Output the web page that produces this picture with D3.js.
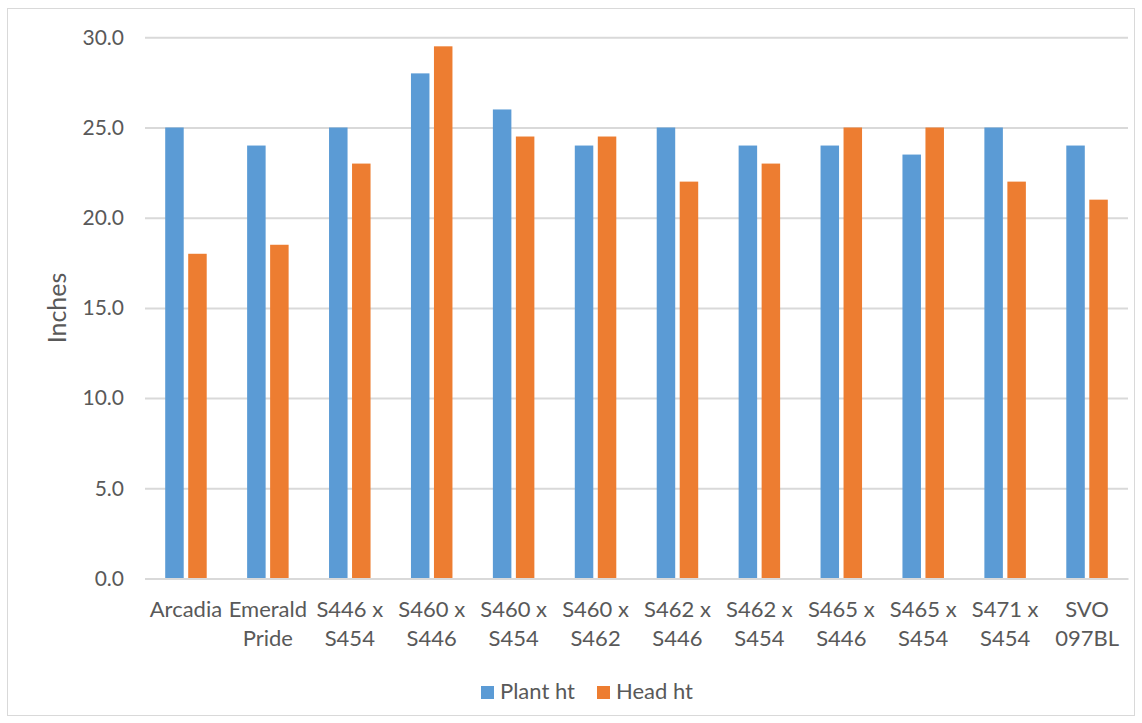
<!DOCTYPE html>
<html><head><meta charset="utf-8">
<script src="https://cdn.jsdelivr.net/npm/d3@7"></script>
<style>body{margin:0;background:#fff;} text{font-family:Lato,"Open Sans",sans-serif;}</style>
</head><body>
<svg id="c" width="1142" height="723"></svg>
<script>
const categories = [["Arcadia"],["Emerald","Pride"],["S446 x","S454"],["S460 x","S446"],["S460 x","S454"],["S460 x","S462"],["S462 x","S446"],["S462 x","S454"],["S465 x","S446"],["S465 x","S454"],["S471 x","S454"],["SVO","097BL"]];
const plantHt = [25, 24, 25, 28, 26, 24, 25, 24, 24, 23.5, 25, 24];
const headHt = [18, 18.5, 23, 29.5, 24.5, 24.5, 22, 23, 25, 25, 22, 21];
const yTicks = [0, 5, 10, 15, 20, 25, 30];
const seriesNames = ["Plant ht", "Head ht"];
const colors = ["#5b9bd5", "#ed7d31"];

const svg = d3.select("#c");
svg.append("rect").attr("x",7.5).attr("y",8.5).attr("width",1127).attr("height",707)
  .attr("fill","#fff").attr("stroke","#d9d9d9").attr("stroke-width",1);

const L=145, R=1128, T=37.3, B=578.5;
const x = d3.scaleBand().domain(d3.range(categories.length)).range([L,R]);
const y = d3.scaleLinear().domain([0,30]).range([B,T]);
const barW = 18.5, gap = 4.5;

const ya = svg.append("g").attr("transform",`translate(${L},0)`)
  .call(d3.axisLeft(y).tickValues(yTicks).tickFormat(d3.format(".1f")).tickSize(-(R-L)).tickPadding(21));
ya.select(".domain").remove();
ya.selectAll(".tick line").attr("stroke","#d9d9d9").attr("stroke-width",2);
ya.selectAll(".tick text").attr("fill","#595959").style("font-size","21px").attr("font-family","Lato");

const series=[plantHt, headHt];
series.forEach((s,si)=>{
  svg.append("g").selectAll("rect").data(s).join("rect")
    .attr("x",(d,i)=>x(i)+x.bandwidth()/2 + (si===0 ? -gap/2-barW : gap/2))
    .attr("y",d=>y(d)).attr("width",barW).attr("height",d=>y(0)-y(d))
    .attr("fill",colors[si]);
});

const xa = svg.append("g").attr("transform",`translate(0,${B})`)
  .call(d3.axisBottom(x).tickSize(0).tickFormat(""));
xa.select(".domain").attr("stroke","#d9d9d9").attr("stroke-width",2);
const lab = svg.append("g");
categories.forEach((c,i)=>{
  const t = lab.append("text").attr("x",x(i)+x.bandwidth()/2).attr("y",617)
    .attr("text-anchor","middle").attr("fill","#595959").style("font-size","22px");
  c.forEach((line,j)=>t.append("tspan").attr("x",x(i)+x.bandwidth()/2).attr("dy",j===0?0:29).text(line));
});

svg.append("text").attr("transform","translate(66,308) rotate(-90)").attr("text-anchor","middle")
  .attr("fill","#595959").style("font-size","25px").text("Inches");

const leg = svg.append("g");
const legX=[481,597];
seriesNames.forEach((n,i)=>{
  leg.append("rect").attr("x",legX[i]).attr("y",686).attr("width",13).attr("height",13).attr("fill",colors[i]);
  leg.append("text").attr("x",legX[i]+19).attr("y",699).attr("fill","#595959").style("font-size","22px").text(n);
});
</script>
</body></html>
